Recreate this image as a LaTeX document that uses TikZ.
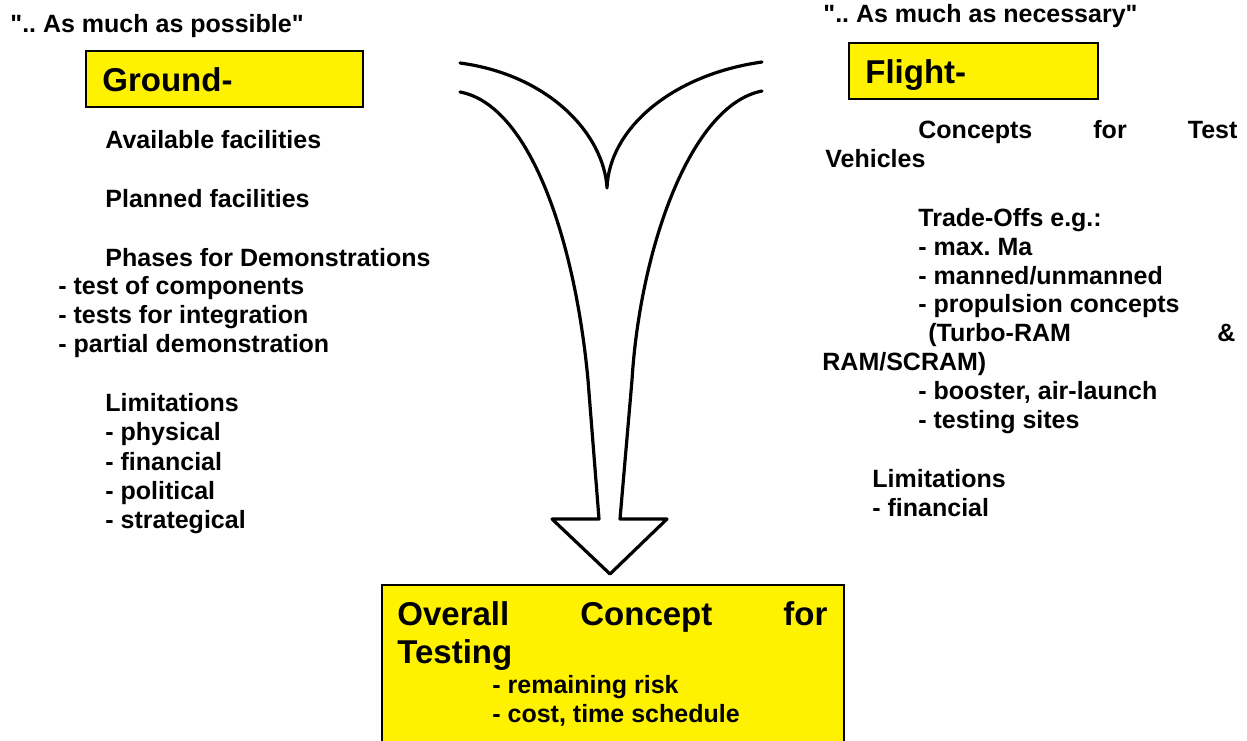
\documentclass[tikz,border=0pt]{standalone}
\usepackage{fontspec}
\setmainfont{Liberation Sans}[Ligatures=TeXOff]
\frenchspacing

\tikzset{
  txt/.style={anchor=base west, inner sep=0pt, font=\fontsize{12.5}{15}\selectfont\bfseries},
  head/.style={anchor=base west, inner sep=0pt, font=\fontsize{16.5}{20}\selectfont\bfseries},
  box/.style={draw=black, fill=yellow, line width=1pt},
  bigarrow/.style={draw=black, line width=1.6pt, line join=round, line cap=round}
}

\begin{document}
\begin{tikzpicture}[x=0.5pt, y=-0.5pt]
\useasboundingbox (0,0) rectangle (1247,740);
% yellow boxes
\draw[box] (86,51) rectangle (363,107);
\draw[box] (849,43) rectangle (1098,99);
\draw[box] (382,585) rectangle (844,760);
% the big arrow
\draw[bigarrow] (460,63) .. controls (550,75) and (604,135) .. (607,188)
  .. controls (609,130) and (670,75) .. (762,62);
\draw[bigarrow] (460,92) .. controls (530,105) and (575,240) .. (588,380)
  -- (599,519) -- (552,519) -- (610,574) -- (667,519) -- (620,519)
  -- (632,380) .. controls (640,250) and (690,105) .. (762,91);
% ground side
\node[txt] (qground) at (10,32) {".. As much as possible"};
\node[head] (ground) at (102,91) {Ground-};
\node[txt] (avail) at (105,148) {Available facilities};
\node[txt] (planned) at (105,207) {Planned facilities};
\node[txt] (phases) at (105,266) {Phases for Demonstrations};
\node[txt] (comp) at (58,294) {- test of components};
\node[txt] (integ) at (58,323) {- tests for integration};
\node[txt] (partial) at (58,352) {- partial demonstration};
\node[txt] (glim) at (105,411) {Limitations};
\node[txt] (phys) at (105,440) {- physical};
\node[txt] (gfin) at (105,470) {- financial};
\node[txt] (polit) at (105,499) {- political};
\node[txt] (strat) at (105,528) {- strategical};
% flight side
\node[txt] (qflight) at (823,22) {".. As much as necessary"};
\node[head] (flight) at (865,83) {Flight-};
\node[txt] (concepts) at (918,138) {\makebox[159.5pt][s]{Concepts for Test}};
\node[txt] (vehicles) at (825,167) {Vehicles};
\node[txt] (trade) at (918,226) {Trade-Offs e.g.:};
\node[txt] (maxma) at (918,255) {- max. Ma};
\node[txt] (manned) at (918,284) {- manned/unmanned};
\node[txt] (propul) at (918,312) {- propulsion concepts};
\node[txt] (turbo) at (928,341) {\makebox[153.5pt][s]{(Turbo-RAM \&}};
\node[txt] (scram) at (822,370) {RAM/SCRAM)};
\node[txt] (booster) at (918,399) {- booster, air-launch};
\node[txt] (sites) at (918,428) {- testing sites};
\node[txt] (flim) at (872,487) {Limitations};
\node[txt] (ffin) at (872,516) {- financial};
% overall concept
\node[head] (overall) at (397,625) {\makebox[215pt][s]{Overall Concept for}};
\node[head] (testing) at (397,663) {Testing};
\node[txt] (risk) at (492,693) {- remaining risk};
\node[txt] (cost) at (492,722) {- cost, time schedule};
\end{tikzpicture}
\end{document}
